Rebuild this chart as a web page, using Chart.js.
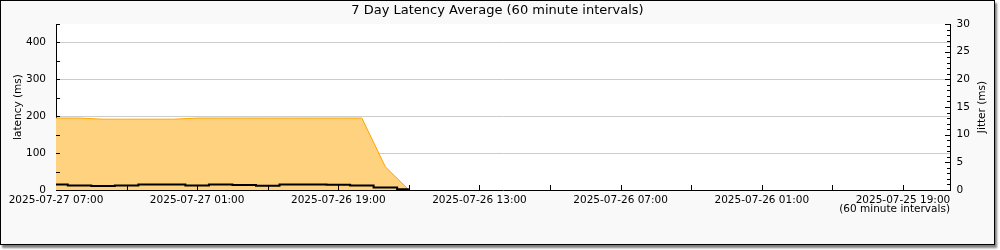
<!DOCTYPE html>
<html>
<head>
<meta charset="utf-8">
<script src="https://cdn.jsdelivr.net/npm/chart.js@4"></script>
<style>
  html, body { margin: 0; padding: 0; background: #fff; }
  #frame {
    position: absolute; left: 0; top: 0;
    width: 993px; height: 243px;
    border: 1px solid #000;
    background: #f9f9f9;
    box-shadow: 2px 3px 2px #808080;
  }
  canvas { display: block; }
</style>
</head>
<body>
<div id="frame"><canvas id="chart" width="993" height="243"></canvas></div>
<script>
// hours back from 2025-07-27 07:00
var hoursAgo = [0, 1, 2, 3, 4, 5, 6, 7, 8, 9, 10, 11, 12, 13, 14, 15];
var latencyMs = [195, 195, 192, 192, 192, 192, 195, 195, 195, 195, 195, 195, 195, 195, 63, 0];
var jitterMs = [1.0, 0.83, 0.72, 0.83, 1.0, 1.0, 0.83, 1.0, 0.9, 0.78, 1.0, 1.0, 0.95, 0.8, 0.45, 0.15];
var tickLabels = ['2025-07-27 07:00', '2025-07-27 01:00', '2025-07-26 19:00', '2025-07-26 13:00',
                  '2025-07-26 07:00', '2025-07-26 01:00', '2025-07-25 19:00'];

var FONT = 'DejaVu Sans';

function points(values) {
  return hoursAgo.map(function (h, i) { return { x: h, y: values[i] }; });
}

// white plot area, inward tick marks, upward right-axis title
var plotDecor = {
  id: 'plotDecor',
  beforeDraw: function (chart) {
    var a = chart.chartArea, ctx = chart.ctx;
    ctx.save();
    ctx.fillStyle = '#fff';
    ctx.fillRect(a.left, a.top, a.right - a.left, a.bottom - a.top);
    ctx.restore();
  },
  afterDraw: function (chart) {
    var ctx = chart.ctx, s = chart.scales;
    ctx.save();
    ctx.strokeStyle = '#000';
    ctx.lineWidth = 1;
    ctx.beginPath();
    s.x.ticks.forEach(function (t) {
      if (t.value <= s.x.min || t.value >= s.x.max) return;
      var px = Math.round(s.x.getPixelForValue(t.value)) + 0.5;
      ctx.moveTo(px, s.x.top);
      ctx.lineTo(px, s.x.top - 5);
    });
    s.y.ticks.forEach(function (t) {
      var py = Math.round(s.y.getPixelForValue(t.value)) + 0.5;
      ctx.moveTo(s.y.right, py);
      ctx.lineTo(s.y.right + 4, py);
    });
    s.y1.ticks.forEach(function (t) {
      var py = Math.round(s.y1.getPixelForValue(t.value)) + 0.5;
      var len = t.value % 5 === 0 ? 5 : 3;
      ctx.moveTo(s.y1.left, py);
      ctx.lineTo(s.y1.left - len, py);
    });
    ctx.stroke();

    var a = chart.chartArea;
    ctx.translate(981, (a.top + a.bottom) / 2);
    ctx.rotate(-Math.PI / 2);
    ctx.fillStyle = '#000';
    ctx.font = '10.5px "' + FONT + '"';
    ctx.textAlign = 'center';
    ctx.textBaseline = 'middle';
    ctx.fillText('Jitter (ms)', 0, 0);
    ctx.restore();
  }
};

var config = {
  type: 'line',
  data: {
    datasets: [
      {
        label: 'Jitter',
        data: points(jitterMs),
        yAxisID: 'y1',
        borderColor: '#000',
        borderWidth: 2,
        stepped: 'middle',
        pointRadius: 0,
        fill: false,
        order: 0
      },
      {
        label: 'Latency',
        data: points(latencyMs),
        yAxisID: 'y',
        borderColor: '#FFA500',
        borderWidth: 1,
        backgroundColor: '#FFD280',
        fill: 'origin',
        pointRadius: 0,
        tension: 0,
        order: 1
      }
    ]
  },
  plugins: [plotDecor],
  options: {
    responsive: false,
    animation: false,
    devicePixelRatio: 1,
    layout: { padding: 0 },
    plugins: {
      legend: { display: false },
      tooltip: { enabled: false },
      title: {
        display: true,
        text: '7 Day Latency Average (60 minute intervals)',
        color: '#000',
        font: { family: FONT, size: 13, weight: 'normal' },
        padding: { top: 2, bottom: 5.4 }
      }
    },
    scales: {
      x: {
        type: 'linear',
        min: 0,
        max: 38,
        border: { display: true, color: '#000', width: 1 },
        grid: { drawOnChartArea: false, drawTicks: false },
        ticks: {
          stepSize: 3,
          autoSkip: false,
          maxRotation: 0,
          padding: 4,
          color: '#000',
          font: { family: FONT, size: 10.5 },
          callback: function (v) { return v % 6 === 0 ? tickLabels[v / 6] : ''; }
        },
        title: {
          display: true,
          text: '(60 minute intervals)',
          align: 'end',
          color: '#000',
          font: { family: FONT, size: 10.5 },
          padding: { top: 0, bottom: 28.7 }
        },
        afterFit: function (scale) {
          scale.height = 54;
          scale.paddingLeft = 0;
          scale.paddingRight = 0;
        }
      },
      y: {
        position: 'left',
        min: 0,
        max: 450,
        border: { display: true, color: '#000', width: 1 },
        grid: {
          drawTicks: false,
          color: function (c) {
            var v = c.tick.value;
            return v > 0 && v < 450 && v % 100 === 0 ? '#cccccc' : 'rgba(0,0,0,0)';
          }
        },
        ticks: {
          stepSize: 50,
          autoSkip: false,
          padding: 10,
          color: '#000',
          font: { family: FONT, size: 10.5 },
          callback: function (v) { return v % 100 === 0 ? v : ''; }
        },
        title: {
          display: true,
          text: 'latency (ms)',
          color: '#000',
          font: { family: FONT, size: 10.5 },
          padding: { top: 10.7, bottom: 0 }
        },
        afterFit: function (scale) {
          scale.width = 55;
          scale.paddingTop = 0;
          scale.paddingBottom = 0;
        }
      },
      y1: {
        position: 'right',
        min: 0,
        max: 30,
        border: { display: true, color: '#000', width: 1 },
        grid: { drawOnChartArea: false, drawTicks: false },
        ticks: {
          stepSize: 1,
          autoSkip: false,
          padding: 6.5,
          color: '#000',
          font: { family: FONT, size: 10.5 },
          callback: function (v) { return v % 5 === 0 ? v : ''; }
        },
        afterFit: function (scale) {
          scale.width = 44;
          scale.paddingTop = 0;
          scale.paddingBottom = 0;
        }
      }
    }
  }
};

new Chart(document.getElementById('chart'), config);
</script>
</body>
</html>
